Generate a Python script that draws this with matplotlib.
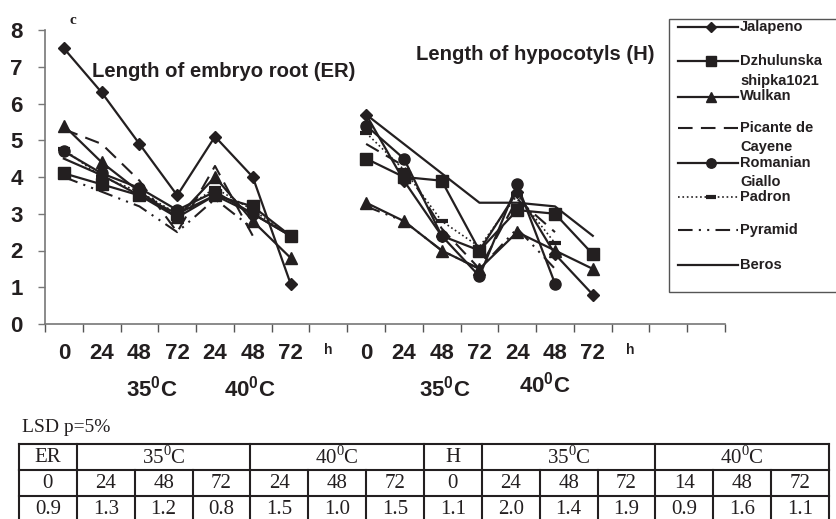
import numpy as np
import matplotlib
matplotlib.use("Agg")
import matplotlib.pyplot as plt
import matplotlib.transforms as mtransforms
from matplotlib.patches import Rectangle

plt.rcParams['font.family'] = ['Liberation Sans', 'DejaVu Sans']

# ------------------------------
# data
# ------------------------------
NAMES = ["Jalapeno", "Dzhulunska shipka1021", "Wulkan", "Picante de Cayene",
         "Romanian", "Giallo Padron", "Pyramid", "Beros"]

# length of embryo root (ER): 0h, 24/48/72h at 35C, 24/48/72h at 40C
ER = {
    "Jalapeno":              [7.5, 6.3, 4.9, 3.5, 5.1, 4.0, 1.1],
    "Dzhulunska shipka1021": [4.1, 3.8, 3.5, 3.0, 3.5, 3.2, 2.4],
    "Wulkan":                [5.4, 4.4, 3.6, 2.9, 4.0, 2.8, 1.8],
    "Picante de Cayene":     [5.3, 4.9, 3.9, 2.5, 4.3, 2.4, np.nan],
    "Romanian":              [4.7, 4.1, 3.7, 3.1, 3.6, 3.0, 2.4],
    "Giallo Padron":         [4.75, 4.0, 3.6, 3.0, 3.7, 3.1, 2.4],
    "Pyramid":               [4.0, 3.6, 3.2, 2.5, 3.4, 2.6, np.nan],
    "Beros":                 [4.5, 4.05, 3.5, 2.9, 3.5, 3.0, 2.4],
}

# length of hypocotyls (H)
HYP = {
    "Jalapeno":              [5.7, 3.9, 2.4, 2.0, 3.6, 1.9, 0.8],
    "Dzhulunska shipka1021": [4.5, 4.0, 3.9, 2.0, 3.1, 3.0, 1.9],
    "Wulkan":                [3.3, 2.8, 2.0, 1.5, 2.5, 2.0, 1.5],
    "Picante de Cayene":     [4.9, 4.3, 2.6, 1.5, 3.4, 2.5, np.nan],
    "Romanian":              [5.4, 4.5, 2.4, 1.3, 3.8, 1.1, np.nan],
    "Giallo Padron":         [5.2, 4.2, 2.8, 2.1, 3.5, 2.2, np.nan],
    "Pyramid":               [3.2, 2.8, 2.0, 1.5, 2.6, 1.5, np.nan],
    "Beros":                 [5.7, 4.9, 4.1, 3.3, 3.3, 3.2, 2.4],
}

X_LABELS = ["0", "24", "48", "72", "24", "48", "72", "h",
            "0", "24", "48", "72", "24", "48", "72", "h", "", ""]

# LSD table
TABLE_HEAD = [("ER", 1), ("35$^\\mathregular{0}$C", 3), ("40$^\\mathregular{0}$C", 3),
              ("H", 1), ("35$^\\mathregular{0}$C", 3), ("40$^\\mathregular{0}$C", 3)]
TABLE_HOURS = ["0", "24", "48", "72", "24", "48", "72", "0", "24", "48", "72", "14", "48", "72"]
TABLE_LSD = ["0.9", "1.3", "1.2", "0.8", "1.5", "1.0", "1.5", "1.1", "2.0", "1.4", "1.9", "0.9", "1.6", "1.1"]

INK = "#231f20"
STYLE = {
    "Jalapeno":              dict(marker="D", ms=6, ls="-", lw=1.6),
    "Dzhulunska shipka1021": dict(marker="s", ms=8, ls="-", lw=1.6),
    "Wulkan":                dict(marker="^", ms=8, ls="-", lw=1.6),
    "Picante de Cayene":     dict(marker=None, ls=(0, (7, 4)), lw=1.5),
    "Romanian":              dict(marker="o", ms=8, ls="-", lw=1.6),
    "Giallo Padron":         dict(marker="_", ms=8, mew=3, ls=":", lw=1.2),
    "Pyramid":               dict(marker=None, ls=(0, (7, 3, 1, 3, 1, 3)), lw=1.5),
    "Beros":                 dict(marker=None, ls="-", lw=1.6),
}

W, H = 836, 519
fig = plt.figure(figsize=(W / 100, H / 100), dpi=100)
ax = fig.add_axes([45 / W, 1 - 324 / H, (725 - 45) / W, (324 - 30) / H])

x_er = np.arange(7)
x_h = np.arange(8, 15)
for name in NAMES:
    st = STYLE[name]
    ax.plot(x_er, ER[name], color=INK, **st)
    ax.plot(x_h, HYP[name], color=INK, **st)

ax.set_xlim(-0.5, 17.5)
ax.set_ylim(0, 8)
ax.spines['top'].set_visible(False)
ax.spines['right'].set_visible(False)
for s in ("left", "bottom"):
    ax.spines[s].set_color("#777777")
    ax.spines[s].set_linewidth(1.2)

ax.set_yticks(range(9))
ax.set_yticklabels([str(i) for i in range(9)], fontsize=16, fontweight="bold", color=INK)
ax.tick_params(axis="y", length=5, width=1, color="#777777", pad=11)

ax.set_xticks(np.arange(18))
ax.set_xticklabels(X_LABELS, fontsize=16, fontweight="bold", color=INK)
ax.set_xticks(np.arange(-0.5, 18, 1), minor=True)
ax.tick_params(axis="x", which="major", length=0, pad=14)
ax.tick_params(axis="x", which="minor", length=6, width=1, color="#555555")
for lbl in ax.get_xticklabels():
    if lbl.get_text() == "h":
        lbl.set_fontsize(10)

trans = mtransforms.blended_transform_factory(ax.transData, ax.transAxes)
for xpos, ypos, txt in [(2.33, -0.218, "35$^\\mathregular{0}$C"), (4.93, -0.218, "40$^\\mathregular{0}$C"),
                        (10.09, -0.218, "35$^\\mathregular{0}$C"), (12.73, -0.207, "40$^\\mathregular{0}$C")]:
    ax.text(xpos, ypos, txt, transform=trans, ha="center", va="center",
            fontsize=16, fontweight="bold", color=INK)

ax.text(4.24, 6.88, "Length of embryo root (ER)", ha="center", va="center",
        fontsize=14.6, fontweight="bold", color=INK)
ax.text(12.49, 7.32, "Length of hypocotyls (H)", ha="center", va="center",
        fontsize=14.6, fontweight="bold", color=INK)

fig.text(73 / W, 1 - 20 / H, "c", family="Liberation Serif", fontweight="bold",
         fontsize=11, ha="center", va="center", color=INK)

# overlay in pixel units for legend box and LSD table
ov = fig.add_axes([0, 0, 1, 1], zorder=5)
ov.set_xlim(0, W)
ov.set_ylim(H, 0)
ov.axis("off")

# legend
ov.add_patch(Rectangle((669, 19), 200, 273, facecolor="white", edgecolor="#555555", lw=1))
legend_rows = [
    ("Jalapeno", 27, [("Jalapeno", 27)]),
    ("Dzhulunska shipka1021", 61, [("Dzhulunska", 61), ("shipka1021", 81)]),
    ("Wulkan", 97, [("Wulkan", 96)]),
    ("Picante de Cayene", 128, [("Picante de", 128), ("Cayene", 147)]),
    ("Romanian", 163, [("Romanian", 163)]),
    ("Giallo Padron", 197, [("Giallo", 182), ("Padron", 197)]),
    ("Pyramid", 230, [("Pyramid", 230)]),
    ("Beros", 265, [("Beros", 265)]),
]
for name, hy, lines in legend_rows:
    st = dict(STYLE[name])
    ov.plot([678, 738], [hy, hy], color=INK, ls=st["ls"], lw=st["lw"])
    if st.get("marker"):
        ov.plot([711], [hy], color=INK, marker=st["marker"], ms=st.get("ms", 6) * 0.85,
                mew=st.get("mew", 1), ls="none")
    for txt, ty in lines:
        ov.text(740, ty, txt, ha="left", va="center", fontsize=10.5,
                fontweight="bold", color=INK)

# LSD table
serif = "Liberation Serif"
ov.text(22, 428, "LSD p=5%", family=serif, fontsize=14, ha="left", va="center", color=INK)
cols = np.linspace(19, 829, 15)
rows = [444, 470, 496, 522]
for ry in rows:
    ov.plot([cols[0], cols[-1]], [ry, ry], color=INK, lw=1.5)
span_start = 0
for txt, span in TABLE_HEAD:
    ov.plot([cols[span_start], cols[span_start]], [rows[0], rows[1]], color=INK, lw=1.5)
    xc = (cols[span_start] + cols[span_start + span]) / 2
    ov.text(xc, 457, txt, family=serif, fontsize=15, ha="center", va="center", color=INK)
    span_start += span
ov.plot([cols[-1], cols[-1]], [rows[0], rows[1]], color=INK, lw=1.5)
for i in range(15):
    ov.plot([cols[i], cols[i]], [rows[1], rows[3]], color=INK, lw=1.5)
for i in range(14):
    xc = (cols[i] + cols[i + 1]) / 2
    ov.text(xc, 483, TABLE_HOURS[i], family=serif, fontsize=15, ha="center", va="center", color=INK)
    ov.text(xc, 509, TABLE_LSD[i], family=serif, fontsize=15, ha="center", va="center", color=INK)

plt.savefig("out.png", dpi=100)
